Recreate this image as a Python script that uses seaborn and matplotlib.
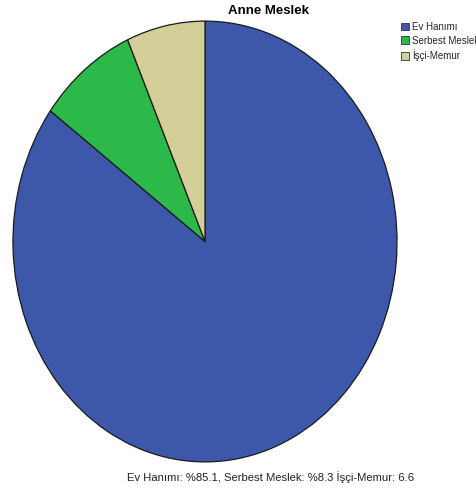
import matplotlib
matplotlib.use("Agg")
import matplotlib.pyplot as plt
import seaborn as sns
from matplotlib.patches import Patch

categories = ["Ev Hanımı", "Serbest Meslek", "İşçi-Memur"]
values = [85.1, 8.3, 6.6]
colors = ["#3D58AB", "#2DB84A", "#D4CE98"]
title = "Anne Meslek"
footer = "Ev Hanımı: %85.1, Serbest Meslek: %8.3 İşçi-Memur: 6.6"

sns.set_theme(style="white")
plt.rcParams['font.family'] = ['Liberation Sans', 'DejaVu Sans']

W, H = 476, 490
fig = plt.figure(figsize=(W/100, H/100), dpi=100)
fig.patch.set_facecolor("white")

# pie axes (ellipse)
x0, x1 = 12, 398
y0, y1 = 20, 463
ax = fig.add_axes([x0/W, 1 - y1/H, (x1-x0)/W, (y1-y0)/H])
ax.pie(values, colors=colors, startangle=90, counterclock=False, radius=1,
       wedgeprops=dict(edgecolor="#1a1a1a", linewidth=0.9))
ax.set_aspect("auto")
ax.set_xlim(-1.005, 1.005)
ax.set_ylim(-1.005, 1.005)
ax.axis("off")

fig.text(269/W, 1 - 11/H, title, ha="center", va="center", fontsize=9.5,
         fontweight="bold", color="black")

handles = [Patch(facecolor=c, edgecolor="#333333", linewidth=0.6) for c in colors]
leg = fig.legend(handles, categories, loc="upper left", bbox_to_anchor=(399/W, 1 - 20/H),
                 frameon=False, fontsize=7, handlelength=0.85, handleheight=0.85,
                 handletextpad=0.3, labelspacing=0.38, borderpad=0.2, borderaxespad=0)

fig.text(127/W, 1 - 477/H, footer, ha="left", va="center", fontsize=8.1, color="#222222")

fig.savefig("out.png", dpi=100)
